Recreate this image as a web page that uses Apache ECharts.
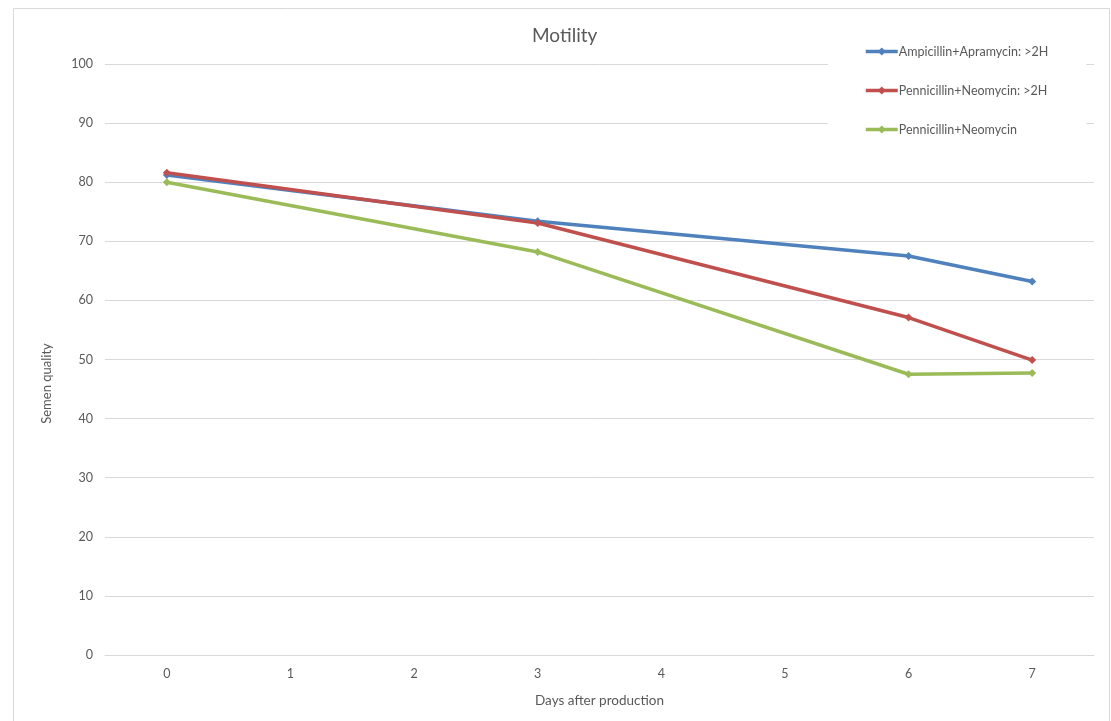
<!DOCTYPE html>
<html>
<head>
<meta charset="utf-8">
<script src="https://cdn.jsdelivr.net/npm/echarts@6/dist/echarts.min.js"></script>
<style>
  html, body { margin: 0; padding: 0; background: #fff; }
  #chart { width: 1111px; height: 721px; }
</style>
</head>
<body>
<div id="chart"></div>
<script>
// Days after production (category axis); measurements taken on days 0, 3, 6 and 7
const days = ['0', '1', '2', '3', '4', '5', '6', '7'];
const seriesNames = [
  'Ampicillin+Apramycin: >2H',
  'Pennicillin+Neomycin: >2H',
  'Pennicillin+Neomycin'
];
const ampApr2H = [81.2, null, null, 73.4, null, null, 67.5, 63.2];
const penNeo2H = [81.6, null, null, 73.1, null, null, 57.1, 49.9];
const penNeo   = [80.0, null, null, 68.2, null, null, 47.5, 47.7];
const yTicks = { min: 0, max: 100, interval: 10 };

const colors = ['#4F81BD', '#C0504D', '#9BBB59'];
const fontFamily = 'Lato, "Open Sans", sans-serif';
const textColor = '#595959';

function lineSeries(name, data, color) {
  return {
    name: name,
    type: 'line',
    data: data,
    connectNulls: true,
    symbol: 'diamond',
    symbolSize: 8,
    showSymbol: true,
    itemStyle: { color: color },
    lineStyle: { color: color, width: 3.5 },
    emphasis: { disabled: true },
    z: 3
  };
}

const chart = echarts.init(document.getElementById('chart'), null, { renderer: 'canvas' });
chart.setOption({
  animation: false,
  backgroundColor: '#fff',
  title: {
    text: 'Motility',
    left: 527,
    top: 21,
    textStyle: { fontFamily: fontFamily, fontSize: 19, fontWeight: 'normal', color: textColor }
  },
  legend: {
    orient: 'vertical',
    left: 828,
    top: 36,
    itemWidth: 32,
    itemHeight: 10,
    itemGap: 26,
    padding: [9, 38, 16, 36],
    backgroundColor: '#fff',
    z: 10,
    lineStyle: { width: 3.5 },
    textStyle: { fontFamily: fontFamily, fontSize: 12.5, color: textColor, padding: [0, 0, 0, -4] },
    data: seriesNames
  },
  grid: { left: 105, right: 17, top: 64, bottom: 66, containLabel: false },
  xAxis: {
    type: 'category',
    data: days,
    boundaryGap: true,
    name: 'Days after production',
    nameLocation: 'middle',
    nameGap: 39,
    nameTextStyle: { fontFamily: fontFamily, fontSize: 13.5, color: textColor },
    axisLine: { show: true, lineStyle: { color: '#d9d9d9', width: 1 } },
    axisTick: { show: false },
    axisLabel: { fontFamily: fontFamily, fontSize: 12.5, color: textColor, margin: 12 },
    splitLine: { show: false }
  },
  yAxis: {
    type: 'value',
    min: yTicks.min,
    max: yTicks.max,
    interval: yTicks.interval,
    name: 'Semen quality',
    nameLocation: 'middle',
    nameGap: 52,
    nameTextStyle: { fontFamily: fontFamily, fontSize: 13, color: textColor, padding: [0, 0, 0, -48] },
    axisLine: { show: false },
    axisTick: { show: false },
    axisLabel: { fontFamily: fontFamily, fontSize: 12.5, color: textColor, margin: 12 },
    splitLine: { lineStyle: { color: '#d9d9d9', width: 1 } }
  },
  graphic: [{
    type: 'rect',
    shape: { x: 13.5, y: 8.5, width: 1096, height: 720 },
    style: { fill: 'none', stroke: '#d9d9d9', lineWidth: 1 },
    silent: true,
    z: -1
  }],
  series: [
    lineSeries(seriesNames[0], ampApr2H, colors[0]),
    lineSeries(seriesNames[1], penNeo2H, colors[1]),
    lineSeries(seriesNames[2], penNeo, colors[2])
  ]
});
</script>
</body>
</html>
